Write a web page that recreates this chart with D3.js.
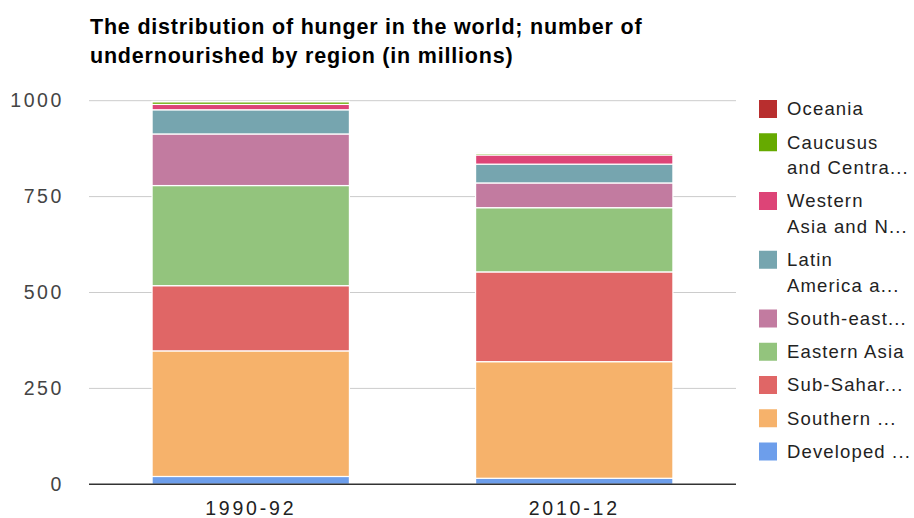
<!DOCTYPE html>
<html>
<head>
<meta charset="utf-8">
<script src="https://cdn.jsdelivr.net/npm/d3@7"></script>
<style>
  html, body { margin: 0; padding: 0; background: #fff; }
  svg { display: block; }
  text { font-family: "Liberation Sans", Arial, sans-serif; }
</style>
</head>
<body>
<svg id="chart" width="914" height="518"></svg>
<script>
// Periods on the x axis
const periods = ["1990-92", "2010-12"];

// Regions, bottom of the stack first
const regions = [
  "Developed regions",
  "Southern Asia",
  "Sub-Saharan Africa",
  "Eastern Asia",
  "South-eastern Asia",
  "Latin America and the Caribbean",
  "Western Asia and Northern Africa",
  "Caucusus and Central Asia",
  "Oceania"
];

// Undernourished people (millions) per region, one value per period
const developed      = [20.4, 15.7];
const southernAsia   = [327.4, 304.0];
const subSaharan     = [170.0, 234.0];
const easternAsia    = [261.0, 167.4];
const southEastAsia  = [134.5, 64.5];
const latinAmerica   = [63.0, 49.0];
const westAsiaNAfr   = [14.0, 24.0];
const caucasusCAsia  = [7.0, 4.0];
const oceania        = [1.0, 1.2];

const seriesValues = [developed, southernAsia, subSaharan, easternAsia,
  southEastAsia, latinAmerica, westAsiaNAfr, caucasusCAsia, oceania];

// Legend labels (shortened as they appear), same order as regions
const legendLabels = [
  ["Developed ..."],
  ["Southern ..."],
  ["Sub-Sahar..."],
  ["Eastern Asia"],
  ["South-east..."],
  ["Latin", "America a..."],
  ["Western", "Asia and N..."],
  ["Caucusus", "and Centra..."],
  ["Oceania"]
];

const colors = ["#6d9eeb", "#f6b26b", "#e06666", "#93c47d", "#c27ba0",
  "#76a5af", "#dd4477", "#66aa00", "#b82e2e"];

const yTicks = [0, 250, 500, 750, 1000];

const titleLines = [
  "The distribution of hunger in the world; number of",
  "undernourished by region (in millions)"
];

// ---- layout ----
const plot = { left: 89, right: 736, top: 100.7, bottom: 484.3 };
const svg = d3.select("#chart");

const rows = periods.map((p, i) => {
  const r = { period: p };
  regions.forEach((name, k) => { r[name] = seriesValues[k][i]; });
  return r;
});

const x = d3.scaleBand().domain(periods).range([plot.left, plot.right]).padding(0);
const y = d3.scaleLinear().domain([0, 1000]).range([plot.bottom, plot.top]);
const color = d3.scaleOrdinal().domain(regions).range(colors);
const barWidth = x.bandwidth() * 0.61;

// Title
svg.append("g")
  .selectAll("text")
  .data(titleLines)
  .join("text")
  .attr("x", 90)
  .attr("y", (d, i) => 34 + i * 29)
  .attr("font-size", 21.5)
  .attr("font-weight", "bold")
  .attr("letter-spacing", 0.8)
  .attr("fill", "#000")
  .text(d => d);

// Gridlines
svg.append("g")
  .selectAll("line")
  .data(yTicks.filter(t => t !== 0))
  .join("line")
  .attr("x1", plot.left).attr("x2", plot.right)
  .attr("y1", d => y(d)).attr("y2", d => y(d))
  .attr("stroke", "#cccccc").attr("stroke-width", 1);

// Y axis labels
const yAxis = d3.axisLeft(y).tickValues(yTicks).tickFormat(d3.format("d")).tickSize(0).tickPadding(0);
const yg = svg.append("g").attr("transform", `translate(${plot.left - 25},0)`).call(yAxis);
yg.select(".domain").remove();
yg.selectAll("text")
  .attr("font-size", 19.5)
  .attr("letter-spacing", 2.6)
  .attr("fill", "#444")
  .attr("font-family", "'Liberation Sans', Arial, sans-serif");

// Stacked bars
const stacked = d3.stack().keys(regions)(rows);
svg.append("g")
  .selectAll("g")
  .data(stacked)
  .join("g")
  .attr("fill", d => color(d.key))
  .selectAll("rect")
  .data(d => d)
  .join("rect")
  .attr("x", d => x(d.data.period) + (x.bandwidth() - barWidth) / 2)
  .attr("width", barWidth)
  .attr("y", d => y(d[1]))
  .attr("height", d => Math.max(0, y(d[0]) - y(d[1])))
  .attr("stroke", "#ffffff")
  .attr("stroke-width", 1.2);

// Baseline
svg.append("line")
  .attr("x1", plot.left).attr("x2", plot.right)
  .attr("y1", y(0)).attr("y2", y(0))
  .attr("stroke", "#333").attr("stroke-width", 1.5);

// X axis labels
const xAxis = d3.axisBottom(x).tickSize(0).tickPadding(0);
const xg = svg.append("g").attr("transform", `translate(0,${y(0) + 17})`).call(xAxis);
xg.select(".domain").remove();
xg.selectAll("text")
  .attr("font-size", 19.5)
  .attr("letter-spacing", 2.8)
  .attr("fill", "#222")
  .attr("font-family", "'Liberation Sans', Arial, sans-serif");

// Legend, last series at the top
const legendItems = regions.map((name, k) => ({ name, lines: legendLabels[k], color: colors[k] })).reverse();
let ly = 109;
const legend = svg.append("g");
legendItems.forEach(item => {
  const g = legend.append("g");
  g.append("rect")
    .attr("x", 759).attr("y", ly - 9)
    .attr("width", 18).attr("height", 18)
    .attr("fill", item.color);
  g.selectAll("text")
    .data(item.lines)
    .join("text")
    .attr("x", 787)
    .attr("y", (d, i) => ly + i * 25.5)
    .attr("dy", "0.35em")
    .attr("font-size", 18.5)
    .attr("letter-spacing", 1.15)
    .attr("fill", "#222")
    .text(d => d);
  ly += 33.25 + (item.lines.length - 1) * 25.5;
});
</script>
</body>
</html>
